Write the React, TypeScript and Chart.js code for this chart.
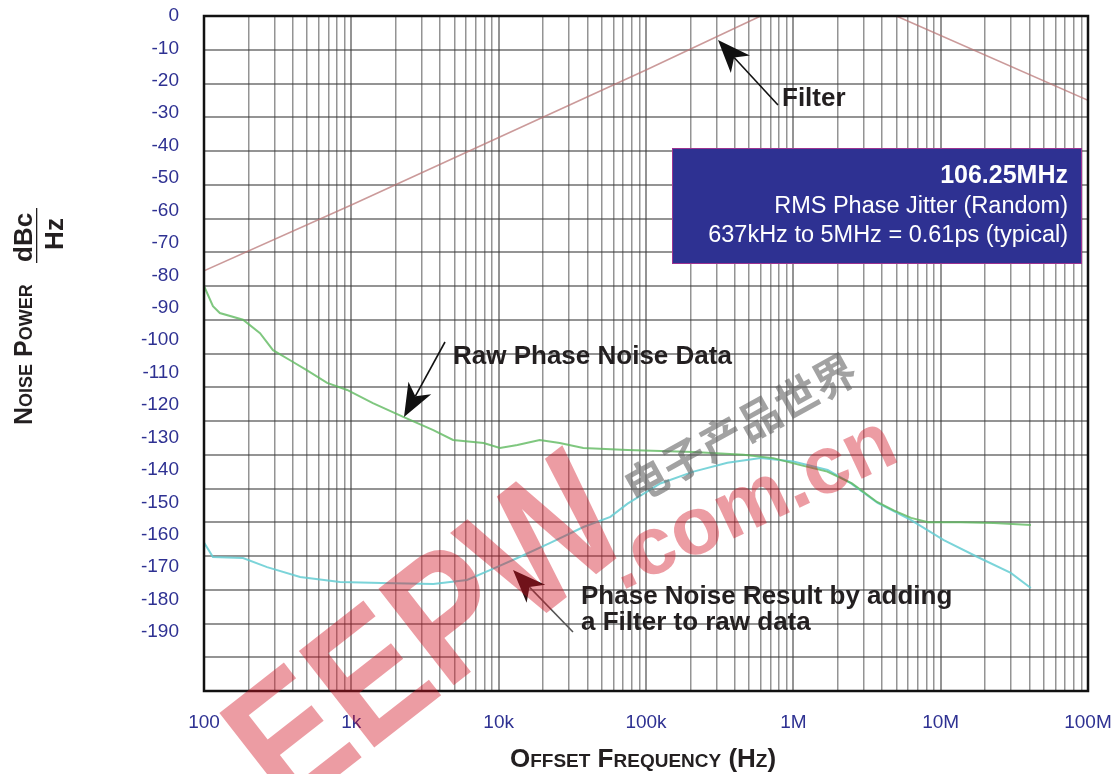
import React, { useEffect, useRef } from 'react';
import { Chart, registerables } from 'chart.js';

Chart.register(...registerables);

// ---------- Data ----------
const filterFreq = [100, 1000, 10000, 100000, 600000, 5000000, 100000000];
const filterDb = [-75.5, -56, -36, -16, 0, 0, -25];

const rawFreq = [100, 115, 128, 184, 240, 294, 384, 501, 685, 936, 1400, 2250, 3600, 4900, 7900, 10200, 13400, 19000, 26000, 37500, 75000, 210000, 460000, 730000, 1100000, 1700000, 2500000, 3700000, 4800000, 6300000, 8200000, 13700000, 23000000, 41000000];
const rawDb = [-80, -86, -88, -90, -94, -99, -102, -105, -108.7, -110.8, -114.7, -118.8, -122.7, -125.6, -126.5, -128, -127.1, -125.6, -126.5, -128, -128.6, -129.2, -130, -131, -133, -135, -138.5, -144, -146.5, -148.7, -150, -150, -150.2, -150.8];

const resultFreq = [100, 115, 184, 268, 449, 838, 1600, 3600, 6100, 8800, 13400, 22400, 37600, 57300, 75000, 125000, 210000, 357000, 600000, 1000000, 1710000, 2450000, 3730000, 6260000, 10500000, 17800000, 29900000, 40900000];
const resultDb = [-156, -160.3, -160.6, -163.3, -166.2, -167.7, -168, -168.3, -167.1, -164.1, -160.6, -156.1, -151.4, -148.4, -144.5, -138.5, -135, -132.4, -131, -132, -134.5, -138.4, -144.3, -149.3, -155.3, -160.3, -165, -169.5];

const xDecades = [100, 1000, 10000, 100000, 1000000, 10000000];
const xMultipliers = [1, 2, 3, 4, 5, 6, 7, 8, 9];
const xLabelValues = [100, 1000, 10000, 100000, 1000000, 10000000, 100000000];
const xLabelTexts = ['100', '1k', '10k', '100k', '1M', '10M', '100M'];

const yGridValues = [0, -10, -20, -30, -40, -50, -60, -70, -80, -90, -100, -110, -120, -130, -140, -150, -160, -170, -180, -190, -200];
const yLabelValues = [0, -10, -20, -30, -40, -50, -60, -70, -80, -90, -100, -110, -120, -130, -140, -150, -160, -170, -180, -190];

const FONT = '"Liberation Sans", Arial, Helvetica, sans-serif';
const TICK_COLOR = '#2e3192';
const TEXT_COLOR = '#231f20';
const GRID_COLOR = 'rgba(60,60,60,0.55)';

const xGridValues: number[] = [];
xDecades.forEach((d) => xMultipliers.forEach((m) => xGridValues.push(d * m)));
xGridValues.push(100000000);

function drawArrow(ctx: CanvasRenderingContext2D, x1: number, y1: number, x2: number, y2: number, color: string, shaft: string) {
  const dx = x2 - x1;
  const dy = y2 - y1;
  const len = Math.hypot(dx, dy);
  const ux = dx / len;
  const uy = dy / len;
  const headLen = 33;
  const half = 13;
  const bx = x2 - ux * headLen;
  const by = y2 - uy * headLen;
  const nx = x2 - ux * headLen * 0.72;
  const ny = y2 - uy * headLen * 0.72;
  ctx.save();
  ctx.strokeStyle = shaft;
  ctx.lineWidth = 1.6;
  ctx.beginPath();
  ctx.moveTo(x1, y1);
  ctx.lineTo(nx, ny);
  ctx.stroke();
  ctx.fillStyle = color;
  ctx.beginPath();
  ctx.moveTo(x2, y2);
  ctx.lineTo(bx - uy * half, by + ux * half);
  ctx.lineTo(nx, ny);
  ctx.lineTo(bx + uy * half, by - ux * half);
  ctx.closePath();
  ctx.fill();
  ctx.restore();
}

function drawParts(ctx: CanvasRenderingContext2D, parts: [string, boolean][], x: number, y: number, big: number, small: number) {
  let cx = x;
  for (const [t, isBig] of parts) {
    ctx.font = `bold ${isBig ? big : small}px ${FONT}`;
    ctx.fillText(t, cx, y);
    cx += ctx.measureText(t).width;
  }
}

const annotations = {
  id: 'annotations',
  afterDraw(chart: any) {
    const ctx: CanvasRenderingContext2D = chart.ctx;
    const { left, top, right, bottom } = chart.chartArea;
    ctx.save();

    // frame
    ctx.strokeStyle = '#111';
    ctx.lineWidth = 2.5;
    ctx.strokeRect(left, top, right - left, bottom - top);

    // info box
    ctx.fillStyle = '#2e3192';
    ctx.fillRect(672, 148, 410, 116);
    ctx.strokeStyle = '#9b3391';
    ctx.lineWidth = 1;
    ctx.strokeRect(672.5, 148.5, 409, 115);
    ctx.fillStyle = '#ffffff';
    ctx.textAlign = 'right';
    ctx.textBaseline = 'alphabetic';
    ctx.font = `bold 25px ${FONT}`;
    ctx.fillText('106.25MHz', 1068, 183);
    ctx.font = `23.5px ${FONT}`;
    ctx.fillText('RMS Phase Jitter (Random)', 1068, 213);
    ctx.fillText('637kHz to 5MHz = 0.61ps (typical)', 1068, 242);

    // annotation texts
    ctx.fillStyle = TEXT_COLOR;
    ctx.textAlign = 'left';
    ctx.font = `bold 26px ${FONT}`;
    ctx.fillText('Filter', 782, 106);
    ctx.fillText('Raw Phase Noise Data', 453, 364);
    ctx.fillText('Phase Noise Result by adding', 581, 604);
    ctx.fillText('a Filter to raw data', 581, 630);

    // arrows
    drawArrow(ctx, 778, 105, 718, 40, '#111', '#111');
    drawArrow(ctx, 445, 342, 404, 417, '#111', '#111');
    drawArrow(ctx, 573, 632, 513, 570, '#2a1214', '#555');

    // axis titles
    ctx.fillStyle = TEXT_COLOR;
    ctx.textAlign = 'left';
    ctx.textBaseline = 'alphabetic';
    drawParts(ctx, [['O', true], ['FFSET', false], [' ', true], ['F', true], ['REQUENCY', false], [' (', true], ['H', true], ['Z', false], [')', true]], 510, 767, 26, 19);

    ctx.save();
    ctx.rotate(-Math.PI / 2);
    drawParts(ctx, [['N', true], ['OISE', false], [' ', true], ['P', true], ['OWER', false]], -425, 32, 25, 18);
    ctx.font = `bold 26px ${FONT}`;
    ctx.fillText('dBc', -262, 32);
    ctx.fillRect(-263, 36, 55, 1.3);
    ctx.textAlign = 'center';
    ctx.fillText('Hz', -234, 63);
    ctx.restore();

    // watermark
    ctx.save();
    ctx.translate(432, 640);
    ctx.rotate((-38 * Math.PI) / 180);
    ctx.scale(0.85, 1);
    ctx.font = `bold 178px ${FONT}`;
    ctx.fillStyle = 'rgba(210,20,35,0.42)';
    ctx.textAlign = 'center';
    ctx.textBaseline = 'middle';
    ctx.fillText('EEPW', 0, 0);
    ctx.restore();

    ctx.save();
    ctx.translate(752, 505);
    ctx.rotate((-25 * Math.PI) / 180);
    ctx.font = `bold 82px ${FONT}`;
    ctx.fillStyle = 'rgba(210,20,35,0.42)';
    ctx.textAlign = 'center';
    ctx.textBaseline = 'middle';
    ctx.fillText('.com.cn', 0, 0);
    ctx.restore();

    ctx.save();
    ctx.translate(740, 428);
    ctx.rotate((-29 * Math.PI) / 180);
    ctx.font = `bold 43px "Noto Sans CJK SC", sans-serif`;
    ctx.fillStyle = 'rgba(100,100,100,0.6)';
    ctx.textAlign = 'center';
    ctx.textBaseline = 'middle';
    ctx.fillText('电子产品世界', 0, 0);
    ctx.restore();

    ctx.restore();
  },
};

export default function App() {
  const ref = useRef<HTMLCanvasElement>(null);

  useEffect(() => {
    const canvas = ref.current;
    if (!canvas) return;
    const toPoints = (xs: number[], ys: number[]) => xs.map((x, i) => ({ x, y: ys[i] }));
    const noPad = (s: any) => {
      s.paddingTop = 0;
      s.paddingBottom = 0;
      s.paddingLeft = 0;
      s.paddingRight = 0;
    };
    const chart = new Chart(canvas, {
      type: 'line',
      data: {
        datasets: [
          {
            label: 'Filter',
            data: toPoints(filterFreq, filterDb),
            borderColor: 'rgba(185,120,120,0.75)',
            borderWidth: 1.6,
            pointRadius: 0,
            yAxisID: 'y',
          },
          {
            label: 'Raw Phase Noise Data',
            data: toPoints(rawFreq, rawDb),
            borderColor: 'rgba(95,185,95,0.8)',
            borderWidth: 2,
            pointRadius: 0,
            yAxisID: 'y',
          },
          {
            label: 'Phase Noise Result',
            data: toPoints(resultFreq, resultDb),
            borderColor: 'rgba(100,205,210,0.85)',
            borderWidth: 2,
            pointRadius: 0,
            yAxisID: 'y',
          },
        ],
      },
      options: {
        responsive: false,
        animation: false,
        devicePixelRatio: 1,
        layout: { padding: { left: 0, top: 16, right: 32, bottom: 0 }, autoPadding: false },
        plugins: { legend: { display: false }, tooltip: { enabled: false } },
        scales: {
          x: {
            type: 'logarithmic',
            min: 100,
            max: 100000000,
            position: 'bottom',
            afterBuildTicks: (s: any) => {
              s.ticks = xGridValues.map((v) => ({ value: v }));
            },
            afterFit: (s: any) => {
              s.height = 83;
              noPad(s);
            },
            grid: {
              color: GRID_COLOR,
              lineWidth: (c: any) => (xLabelValues.includes(c.tick?.value) ? 2 : 1.5),
              drawTicks: false,
            },
            border: { display: false },
            ticks: {
              autoSkip: false,
              maxRotation: 0,
              minRotation: 0,
              padding: 20,
              color: TICK_COLOR,
              font: { family: FONT, size: 19 },
              callback: (v: any) => {
                const i = xLabelValues.indexOf(Number(v));
                return i >= 0 ? xLabelTexts[i] : '';
              },
            },
          },
          y: {
            type: 'linear',
            min: -200,
            max: 0,
            position: 'left',
            afterBuildTicks: (s: any) => {
              s.ticks = yGridValues.map((v) => ({ value: v }));
            },
            afterFit: (s: any) => {
              s.width = 0;
              noPad(s);
            },
            grid: { color: GRID_COLOR, lineWidth: 1.9, drawTicks: false },
            border: { display: false },
            ticks: { display: false },
          },
          yl: {
            type: 'linear',
            min: -208.2,
            max: 0,
            position: 'left',
            afterBuildTicks: (s: any) => {
              s.ticks = yLabelValues.map((v) => ({ value: v }));
            },
            afterFit: (s: any) => {
              s.width = 204;
              noPad(s);
            },
            grid: { display: false },
            border: { display: false },
            ticks: {
              autoSkip: false,
              padding: 17,
              color: TICK_COLOR,
              font: { family: FONT, size: 19 },
              callback: (v: any) => String(v),
            },
          },
        },
      },
      plugins: [annotations],
    } as any);
    return () => chart.destroy();
  }, []);

  return (
    <div style={{ position: 'fixed', left: 0, top: 0, width: 1120, height: 774, background: '#ffffff' }}>
      <canvas ref={ref} width={1120} height={774} style={{ display: 'block', width: 1120, height: 774 }} />
    </div>
  );
}
